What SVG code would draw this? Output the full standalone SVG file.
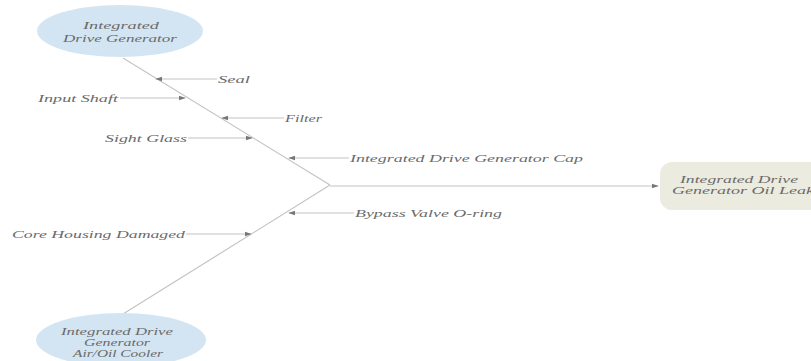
<svg xmlns="http://www.w3.org/2000/svg" width="811" height="361" viewBox="0 0 811 361">
<style>
.t{font-family:"Liberation Serif","Times New Roman",serif;font-style:italic;font-size:11px;fill:#6a6a6a}
.s{font-size:10px}
.c{stroke:#c4c4c4;stroke-width:1.2;fill:none}
.ell{fill:#d3e5f2}
</style>
<defs>
<marker id="ah" viewBox="0 0 10 10" refX="9" refY="5" markerWidth="6" markerHeight="6" orient="auto">
<path d="M0,1.5 L10,5 L0,8.5 z" fill="#777"/>
</marker>
</defs>
<rect width="811" height="361" fill="#ffffff"/>
<g id="connectors">
<line class="c" x1="123" y1="58" x2="330" y2="185"/>
<line class="c" x1="123" y1="314" x2="330" y2="185"/>
<line class="c" x1="330" y1="186" x2="658" y2="186" marker-end="url(#ah)"/>
<line class="c" x1="217" y1="79" x2="156" y2="79" marker-end="url(#ah)"/>
<line class="c" x1="120" y1="98" x2="185" y2="98" marker-end="url(#ah)"/>
<line class="c" x1="284" y1="118" x2="222" y2="118" marker-end="url(#ah)"/>
<line class="c" x1="188" y1="138" x2="252" y2="138" marker-end="url(#ah)"/>
<line class="c" x1="349" y1="158" x2="289" y2="158" marker-end="url(#ah)"/>
<line class="c" x1="354" y1="213" x2="289" y2="213" marker-end="url(#ah)"/>
<line class="c" x1="186" y1="234" x2="251" y2="234" marker-end="url(#ah)"/>
</g>
<g id="node-top">
<ellipse class="ell" cx="120" cy="31" rx="83" ry="26"/>
<text class="t" x="121" y="29" text-anchor="middle" textLength="76" lengthAdjust="spacingAndGlyphs">Integrated</text>
<text class="t" x="120" y="42" text-anchor="middle" textLength="114" lengthAdjust="spacingAndGlyphs">Drive Generator</text>
</g>
<g id="node-bottom">
<ellipse class="ell" cx="121" cy="340" rx="85" ry="27"/>
<text class="t s" x="117" y="335" text-anchor="middle" textLength="112" lengthAdjust="spacingAndGlyphs">Integrated Drive</text>
<text class="t s" x="117" y="346" text-anchor="middle" textLength="66" lengthAdjust="spacingAndGlyphs">Generator</text>
<text class="t s" x="118" y="357" text-anchor="middle" textLength="90" lengthAdjust="spacingAndGlyphs">Air/Oil Cooler</text>
</g>
<g id="node-effect">
<rect x="660" y="162" width="170" height="48" rx="12" fill="#ecebdf"/>
<text class="t s" x="680" y="183" textLength="118" lengthAdjust="spacingAndGlyphs">Integrated Drive</text>
<text class="t s" x="672" y="194" textLength="142" lengthAdjust="spacingAndGlyphs">Generator Oil Leak</text>
</g>
<g id="cause-seal"><text class="t" x="218" y="83" textLength="32" lengthAdjust="spacingAndGlyphs">Seal</text></g>
<g id="cause-input-shaft"><text class="t" x="38" y="102" textLength="80" lengthAdjust="spacingAndGlyphs">Input Shaft</text></g>
<g id="cause-filter"><text class="t" x="285" y="122" textLength="37" lengthAdjust="spacingAndGlyphs">Filter</text></g>
<g id="cause-sight-glass"><text class="t" x="105" y="142" textLength="82" lengthAdjust="spacingAndGlyphs">Sight Glass</text></g>
<g id="cause-idg-cap"><text class="t" x="350" y="162" textLength="233" lengthAdjust="spacingAndGlyphs">Integrated Drive Generator Cap</text></g>
<g id="cause-bypass"><text class="t" x="355" y="217" textLength="147" lengthAdjust="spacingAndGlyphs">Bypass Valve O-ring</text></g>
<g id="cause-core-housing"><text class="t" x="12" y="238" textLength="173" lengthAdjust="spacingAndGlyphs">Core Housing Damaged</text></g>
</svg>
